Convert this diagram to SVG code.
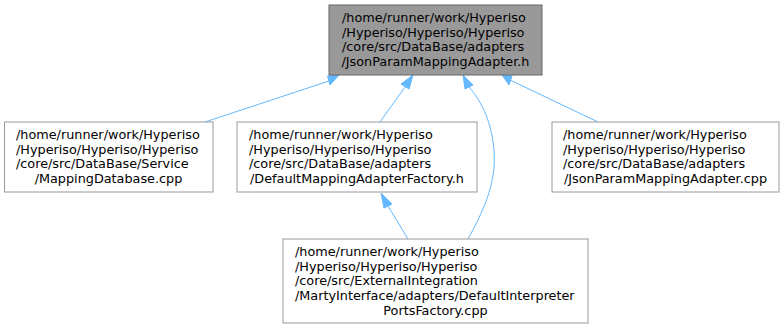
<svg xmlns="http://www.w3.org/2000/svg" width="784" height="329" viewBox="0 0 784 329">
<style>
text{font-family:"DejaVu Sans",sans-serif;font-size:12.8px;fill:#000}
.root{fill:#999999;stroke:#666666;stroke-width:1}
.nd{fill:#ffffff;stroke:#999999;stroke-width:1}
.e{fill:none;stroke:#63b8ff;stroke-width:1}
.ah{fill:#63b8ff;stroke:#63b8ff;stroke-width:1}
</style>
<rect width="784" height="329" fill="#ffffff"/>
<g id="connectors">
<path class="e" d="M205,122 L329,81"/>
<polygon class="ah" points="327.5,76 339,75 330,85"/>
<path class="e" d="M380,122 L405,87"/>
<polygon class="ah" points="401,84 413,75 409,89"/>
<path class="e" d="M468,239 C481,215 497,185 494,150 C491,118 480,100 469,87"/>
<polygon class="ah" points="465,89 463,75 473,85"/>
<path class="e" d="M598,122 L510,80"/>
<polygon class="ah" points="512,76 502,75 509,85"/>
<path class="e" d="M408,239 L388,206"/>
<polygon class="ah" points="384,208 381,193 392,204"/>
</g>
<g id="node1">
<rect class="root" x="329" y="5" width="213" height="70"/>
<text x="342" y="22">/home/runner/work/Hyperiso</text>
<text x="342" y="36.7">/Hyperiso/Hyperiso/Hyperiso</text>
<text x="342" y="51.4">/core/src/DataBase/adapters</text>
<text x="435.5" y="66.1" text-anchor="middle">/JsonParamMappingAdapter.h</text>
</g>
<g id="node2">
<rect class="nd" x="4.5" y="122" width="208.5" height="70"/>
<text x="16" y="139">/home/runner/work/Hyperiso</text>
<text x="16" y="153.7">/Hyperiso/Hyperiso/Hyperiso</text>
<text x="16" y="168.4">/core/src/DataBase/Service</text>
<text x="108.5" y="183.1" text-anchor="middle">/MappingDatabase.cpp</text>
</g>
<g id="node3">
<rect class="nd" x="237" y="122" width="240" height="70"/>
<text x="249" y="139">/home/runner/work/Hyperiso</text>
<text x="249" y="153.7">/Hyperiso/Hyperiso/Hyperiso</text>
<text x="249" y="168.4">/core/src/DataBase/adapters</text>
<text x="357" y="183.1" text-anchor="middle">/DefaultMappingAdapterFactory.h</text>
</g>
<g id="node4">
<rect class="nd" x="552" y="122" width="227" height="70"/>
<text x="563" y="139">/home/runner/work/Hyperiso</text>
<text x="563" y="153.7">/Hyperiso/Hyperiso/Hyperiso</text>
<text x="563" y="168.4">/core/src/DataBase/adapters</text>
<text x="665.5" y="183.1" text-anchor="middle">/JsonParamMappingAdapter.cpp</text>
</g>
<g id="node5">
<rect class="nd" x="283" y="239" width="305" height="84"/>
<text x="295" y="256">/home/runner/work/Hyperiso</text>
<text x="295" y="270.7">/Hyperiso/Hyperiso/Hyperiso</text>
<text x="295" y="285.4">/core/src/ExternalIntegration</text>
<text x="295" y="300.1">/MartyInterface/adapters/DefaultInterpreter</text>
<text x="435.5" y="314.8" text-anchor="middle">PortsFactory.cpp</text>
</g>
</svg>
